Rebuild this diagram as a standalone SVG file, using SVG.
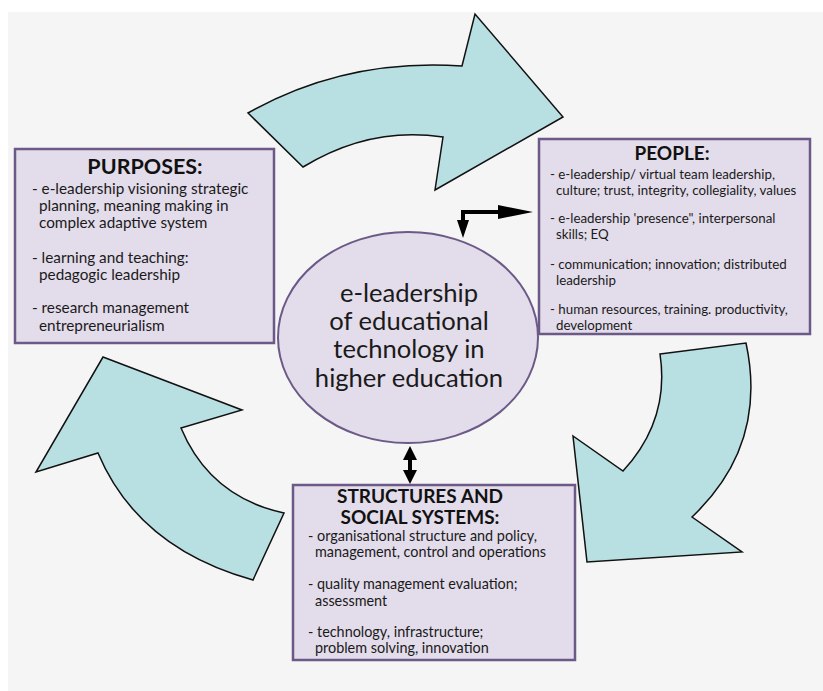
<svg xmlns="http://www.w3.org/2000/svg" width="823" height="691" viewBox="0 0 823 691">
<defs>
<style>
.arrow{fill:#b8dfe2;stroke:#111;stroke-width:1.5;stroke-linejoin:miter}
.box{fill:#e3dcea;stroke:#6b5a88;stroke-width:2.5}
.title{font-family:Lato,"Open Sans",sans-serif;font-weight:bold;font-size:19px;fill:#111;text-anchor:middle}
.t1{font-family:Lato,"Open Sans",sans-serif;font-size:15.3px;fill:#1a1a1a}
.t2{font-family:Lato,"Open Sans",sans-serif;font-size:13.3px;fill:#1a1a1a}
.t3{font-family:Lato,"Open Sans",sans-serif;font-size:14.4px;fill:#1a1a1a}
.center{font-family:Lato,"Open Sans",sans-serif;font-size:25.6px;fill:#1a1a1a;text-anchor:middle}
.conn{fill:none;stroke:#000;stroke-width:4}
</style>
</defs>
<rect x="0" y="0" width="823" height="691" fill="#ffffff"/>
<rect x="8" y="12" width="815" height="679" fill="#f5f5f5"/>

<g id="arrows">
<path id="arrow-top" class="arrow" d="M248,113 Q345,58 462,66 L475,14 L563,117 L435,190 L443,137 Q370,126 303,167 Z"/>
<path id="arrow-right" class="arrow" d="M660,354 L746,343 Q768,445 692,517 L742,552 L587,562 L573,436 L623,471 Q670,420 660,354 Z"/>
<path id="arrow-left" class="arrow" d="M103,357 L242,410 L181,428 Q210,497 284,513 L253,580 Q138,548 98,453 L36,472 Z"/>
</g>

<g id="connectors">
<path class="conn" d="M463,224 L463,212 L500,212"/>
<path d="M457,220 L469,220 L463,238 Z" fill="#000"/>
<path d="M498,205 L533,212 L498,219 Z" fill="#000"/>
<path class="conn" d="M410,457 L410,473"/>
<path d="M403,460 L417,460 L410,446 Z" fill="#000"/>
<path d="M403,470 L417,470 L410,484 Z" fill="#000"/>
</g>

<g id="purposes">
<rect class="box" x="15" y="149" width="259" height="194"/>
<text class="title" x="145" y="174" style="font-size:21.5px">PURPOSES:</text>
<text class="t1" x="32" y="194">- e-leadership visioning strategic</text>
<text class="t1" x="39" y="211">planning, meaning making in</text>
<text class="t1" x="39" y="228">complex adaptive system</text>
<text class="t1" x="32" y="263">- learning and teaching:</text>
<text class="t1" x="39" y="280">pedagogic leadership</text>
<text class="t1" x="32" y="313">- research management</text>
<text class="t1" x="39" y="331">entrepreneurialism</text>
</g>

<g id="people">
<rect class="box" x="539" y="139" width="271" height="195"/>
<text class="title" x="672" y="160">PEOPLE:</text>
<text class="t2" x="550" y="179">- e-leadership/ virtual team leadership,</text>
<text class="t2" x="556" y="195">culture; trust, integrity, collegiality, values</text>
<text class="t2" x="550" y="223">- e-leadership 'presence", interpersonal</text>
<text class="t2" x="556" y="239">skills; EQ</text>
<text class="t2" x="550" y="269">- communication; innovation; distributed</text>
<text class="t2" x="556" y="285">leadership</text>
<text class="t2" x="550" y="314">- human resources, training. productivity,</text>
<text class="t2" x="556" y="330">development</text>
</g>

<g id="structures">
<rect class="box" x="293" y="485" width="282" height="175"/>
<text class="title" x="420" y="503">STRUCTURES AND</text>
<text class="title" x="420" y="524">SOCIAL SYSTEMS:</text>
<text class="t3" x="308" y="540.5">- organisational structure and policy,</text>
<text class="t3" x="315" y="557">management, control and operations</text>
<text class="t3" x="308" y="589">- quality management evaluation;</text>
<text class="t3" x="315" y="605.5">assessment</text>
<text class="t3" x="308" y="636.5">- technology, infrastructure;</text>
<text class="t3" x="315" y="653">problem solving, innovation</text>
</g>

<g id="center-node">
<ellipse cx="408" cy="337.5" rx="130" ry="105.5" fill="#e3dcea" stroke="#6b5a88" stroke-width="2"/>
<text class="center" x="409" y="302">e-leadership</text>
<text class="center" x="409" y="330">of educational</text>
<text class="center" x="409" y="358">technology in</text>
<text class="center" x="409" y="387">higher education</text>
</g>
</svg>
